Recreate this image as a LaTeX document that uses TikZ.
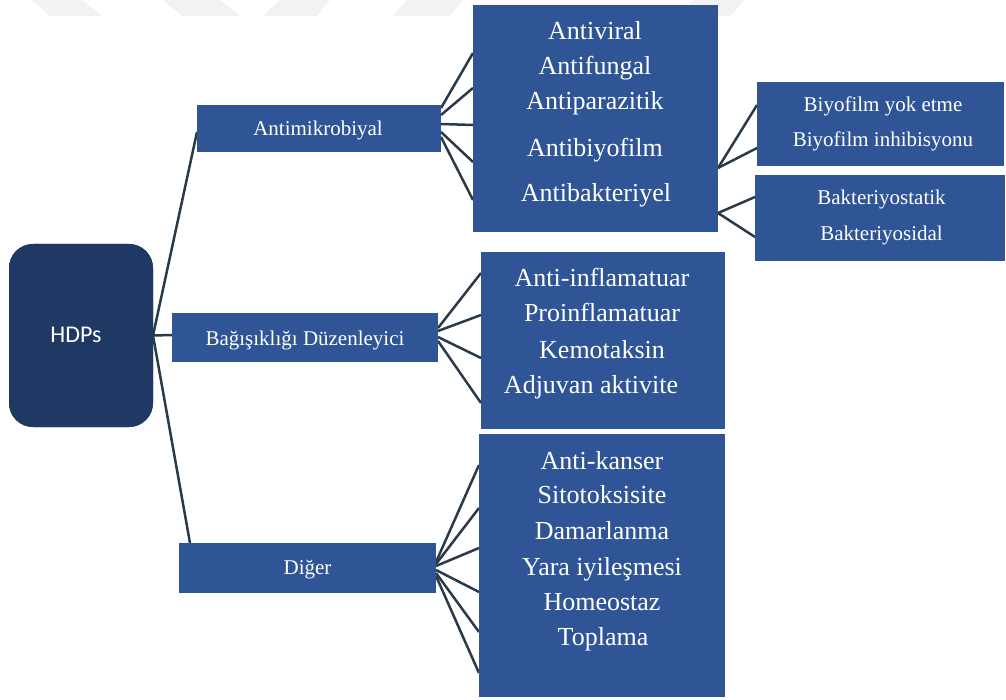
\documentclass[tikz,border=0pt]{standalone}
\usepackage{fontspec}
\setmainfont{Liberation Serif}
\newfontfamily\hdpfont{Carlito}
\definecolor{boxblue}{RGB}{47,85,151}
\definecolor{navy}{RGB}{32,56,100}
\definecolor{linecol}{RGB}{42,58,72}
\definecolor{wm}{RGB}{242,242,242}
\begin{document}
\begin{tikzpicture}[x=1pt,y=-1pt,
  box/.style={fill=boxblue,draw=none,inner sep=0pt,outer sep=0pt,anchor=north west},
  big/.style={text=white,anchor=base,inner sep=0pt,font=\fontsize{26}{30}\selectfont},
  small/.style={text=white,anchor=base,inner sep=0pt,font=\fontsize{21}{25}\selectfont},
  conn/.style={draw=linecol,line width=2.5pt}]
\useasboundingbox (0,0) rectangle (1006,700);
% faint watermark
\fill[wm] (32,0) -- (83,0) -- (102,16) -- (50,16) -- cycle;
\fill[wm] (163,0) -- (220,0) -- (240,16) -- (182,16) -- cycle;
\fill[wm] (280,0) -- (330,0) -- (317,16) -- (263,16) -- cycle;
\fill[wm] (407,0) -- (463,0) -- (450,16) -- (393,16) -- cycle;
\fill[wm] (693,0) -- (745,0) -- (730,16) -- (680,16) -- cycle;
% boxes
\node[box,fill=navy,rounded corners=24pt,minimum width=144pt,minimum height=183pt] (hdp) at (9,244) {};
\node[box,minimum width=244pt,minimum height=47pt] (antimik) at (197,105) {};
\node[box,minimum width=266pt,minimum height=49pt] (bag) at (172,313) {};
\node[box,minimum width=257pt,minimum height=50pt] (diger) at (179,543) {};
\node[box,minimum width=245pt,minimum height=227pt] (list1) at (473,5) {};
\node[box,minimum width=244pt,minimum height=177pt] (list2) at (481,252) {};
\node[box,minimum width=246pt,minimum height=263pt] (list3) at (479,434) {};
\node[box,minimum width=247pt,minimum height=84pt] (biyo) at (757,82) {};
\node[box,minimum width=250pt,minimum height=86pt] (bakt) at (755,175) {};
% connectors
\draw[conn] (hdp.east) -- (antimik.west |- 0,132);
\draw[conn] (hdp.east) -- (bag.west |- 0,335);
\draw[conn] (hdp.east) -- (diger.north west -| 190,0);
\draw[conn] (antimik.east |- 0,108) -- (list1.west |- 0,53);
\draw[conn] (antimik.east |- 0,115) -- (list1.west |- 0,88);
\draw[conn] (antimik.east |- 0,124) -- (list1.west |- 0,125);
\draw[conn] (antimik.east |- 0,132) -- (list1.west |- 0,162);
\draw[conn] (antimik.east |- 0,137) -- (list1.west |- 0,200);
\draw[conn] (bag.east |- 0,328) -- (list2.west |- 0,273);
\draw[conn] (bag.east |- 0,331) -- (list2.west |- 0,315);
\draw[conn] (bag.east |- 0,337) -- (list2.west |- 0,358);
\draw[conn] (bag.east |- 0,341) -- (list2.west |- 0,403);
\draw[conn] (diger.east |- 0,562) -- (list3.west |- 0,465);
\draw[conn] (diger.east |- 0,564) -- (list3.west |- 0,508);
\draw[conn] (diger.east |- 0,566) -- (list3.west |- 0,548);
\draw[conn] (diger.east |- 0,570) -- (list3.west |- 0,592);
\draw[conn] (diger.east |- 0,573) -- (list3.west |- 0,632);
\draw[conn] (diger.east |- 0,576) -- (list3.west |- 0,673);
\draw[conn] (list1.east |- 0,168) -- (biyo.west |- 0,105);
\draw[conn] (list1.east |- 0,168) -- (biyo.west |- 0,148);
\draw[conn] (list1.east |- 0,213) -- (bakt.west |- 0,197);
\draw[conn] (list1.east |- 0,213) -- (bakt.west |- 0,237);
% redraw boxes over connector ends
\fill[navy,rounded corners=24pt] (hdp.north west) rectangle (hdp.south east);
\foreach \b in {antimik,bag,diger,list1,list2,list3,biyo,bakt}{
  \fill[boxblue] (\b.north west) rectangle (\b.south east);
}
% texts
\node[text=white,anchor=base,inner sep=0pt,font=\hdpfont\fontsize{24}{28}\selectfont] (thdp) at (76,343) {HDPs};
\node[small] (tantimik) at (318,136) {Antimikrobiyal};
\node[small] (tbag) at (305,345) {Bağışıklığı Düzenleyici};
\node[small] (tdiger) at (307.5,574) {Diğer};
\node[big] (a1) at (595,40) {Antiviral};
\node[big] (a2) at (595,75) {Antifungal};
\node[big] (a3) at (595,110) {Antiparazitik};
\node[big] (a4) at (595,157) {Antibiyofilm};
\node[big] (a5) at (596,202) {Antibakteriyel};
\node[big] (b1) at (602,287) {Anti-inflamatuar};
\node[big] (b2) at (602,322) {Proinflamatuar};
\node[big] (b3) at (602,358) {Kemotaksin};
\node[big] (b4) at (591,393) {Adjuvan aktivite};
\node[big] (c1) at (602,469) {Anti-kanser};
\node[big] (c2) at (602,503) {Sitotoksisite};
\node[big] (c3) at (602,539) {Damarlanma};
\node[big] (c4) at (602,575) {Yara iyileşmesi};
\node[big] (c5) at (602,610) {Homeostaz};
\node[big] (c6) at (603,645) {Toplama};
\node[small] (d1) at (883,112) {Biyofilm yok etme};
\node[small] (d2) at (883,147) {Biyofilm inhibisyonu};
\node[small] (e1) at (881.5,205) {Bakteriyostatik};
\node[small] (e2) at (881.5,241) {Bakteriyosidal};
\end{tikzpicture}
\end{document}
